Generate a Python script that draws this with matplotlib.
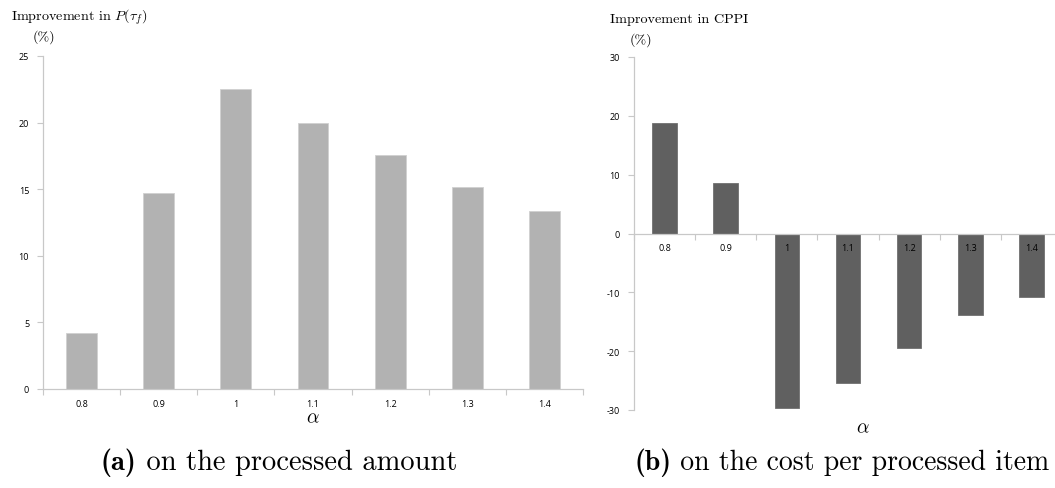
import matplotlib
matplotlib.use("Agg")
import matplotlib.pyplot as plt
import numpy as np

# alpha values on the x axis
alphas = ["0.8", "0.9", "1", "1.1", "1.2", "1.3", "1.4"]
# improvement in P(tau_f), percent
gain_amount = [4.2, 14.7, 22.5, 20.0, 17.6, 15.2, 13.4]
# improvement in CPPI, percent
gain_cppi = [18.8, 8.5, -29.6, -25.4, -19.5, -13.8, -10.8]

plt.rcParams["mathtext.fontset"] = "cm"
plt.rcParams["axes.unicode_minus"] = False

GRID = "#c8c8c8"
TICKFONT = dict(family="Open Sans", size=6.5)
SERIF = "cmr10"

fig = plt.figure(figsize=(10.55, 4.89), dpi=100)


def excel_axes(ax, n, zero_axis=False):
    for s in ["top", "right"]:
        ax.spines[s].set_visible(False)
    for s in ["left", "bottom"]:
        ax.spines[s].set_color(GRID)
        ax.spines[s].set_linewidth(0.9)
    if zero_axis:
        ax.spines["bottom"].set_position(("data", 0))
    x = np.arange(n)
    ax.set_xlim(-0.5, n - 0.5)
    ax.set_xticks(x)
    ax.set_xticklabels(alphas, **TICKFONT)
    ax.set_xticks(np.arange(n + 1) - 0.5, minor=True)
    ax.tick_params(axis="x", which="major", length=0, pad=7)
    ax.tick_params(axis="x", which="minor", length=4, color=GRID, width=0.8)
    ax.tick_params(axis="y", length=4, color=GRID, width=0.8, pad=6)
    for lab in ax.get_yticklabels():
        lab.set_fontproperties(TICKFONT)
    return x


def caption(cx, cy, tag, rest, size=20.5):
    # bold tag + roman text, centred as one line
    r = fig.canvas.get_renderer()
    t1 = fig.text(0, cy, tag, family="cmb10", fontsize=size, va="center")
    t2 = fig.text(0, cy, rest, family=SERIF, fontsize=size, va="center")
    w1 = t1.get_window_extent(r).width / fig.bbox.width
    w2 = t2.get_window_extent(r).width / fig.bbox.width
    x0 = cx - (w1 + w2) / 2
    t1.set_x(x0)
    t2.set_x(x0 + w1)


x = np.arange(len(alphas))

# (a) processed amount
ax1 = fig.add_axes([43 / 1055, 1 - 390 / 489, 540 / 1055, 333 / 489])
ax1.bar(x, gain_amount, width=0.4, color="#b2b2b2", edgecolor="#d0d0d0", linewidth=0.6)
ax1.set_ylim(0, 25)
ax1.set_yticks(np.arange(0, 26, 5))
excel_axes(ax1, len(alphas))
ax1.set_xlabel(r"$\alpha$", fontsize=14, labelpad=0)

# (b) cost per processed item
ax2 = fig.add_axes([634 / 1055, 1 - 411 / 489, 428 / 1055, 353 / 489])
ax2.bar(x, gain_cppi, width=0.4, color="#606060", edgecolor="#707070", linewidth=0.6)
ax2.set_ylim(-30, 30)
ax2.set_yticks(np.arange(-30, 31, 10))
excel_axes(ax2, len(alphas), zero_axis=True)
ax2.text(3.25, -32.8, r"$\alpha$", fontsize=14, ha="center", va="center", clip_on=False)

# panel titles
fig.text(11 / 1055, 1 - 17 / 489, r"Improvement in $P(\tau_f)$",
         family=SERIF, fontsize=10.2, va="center")
fig.text(33 / 1055, 1 - 37 / 489, "(%)", family=SERIF, fontsize=10.2, va="center")
fig.text(610 / 1055, 1 - 20 / 489, "Improvement in CPPI",
         family=SERIF, fontsize=10.2, va="center")
fig.text(630 / 1055, 1 - 40 / 489, "(%)", family=SERIF, fontsize=10.2, va="center")

# captions
caption(279 / 1055, 1 - 463 / 489, "(a)", " on the processed amount")
caption(842 / 1055, 1 - 463 / 489, "(b)", " on the cost per processed item", size=20)

fig.savefig("out.png", dpi=100)
